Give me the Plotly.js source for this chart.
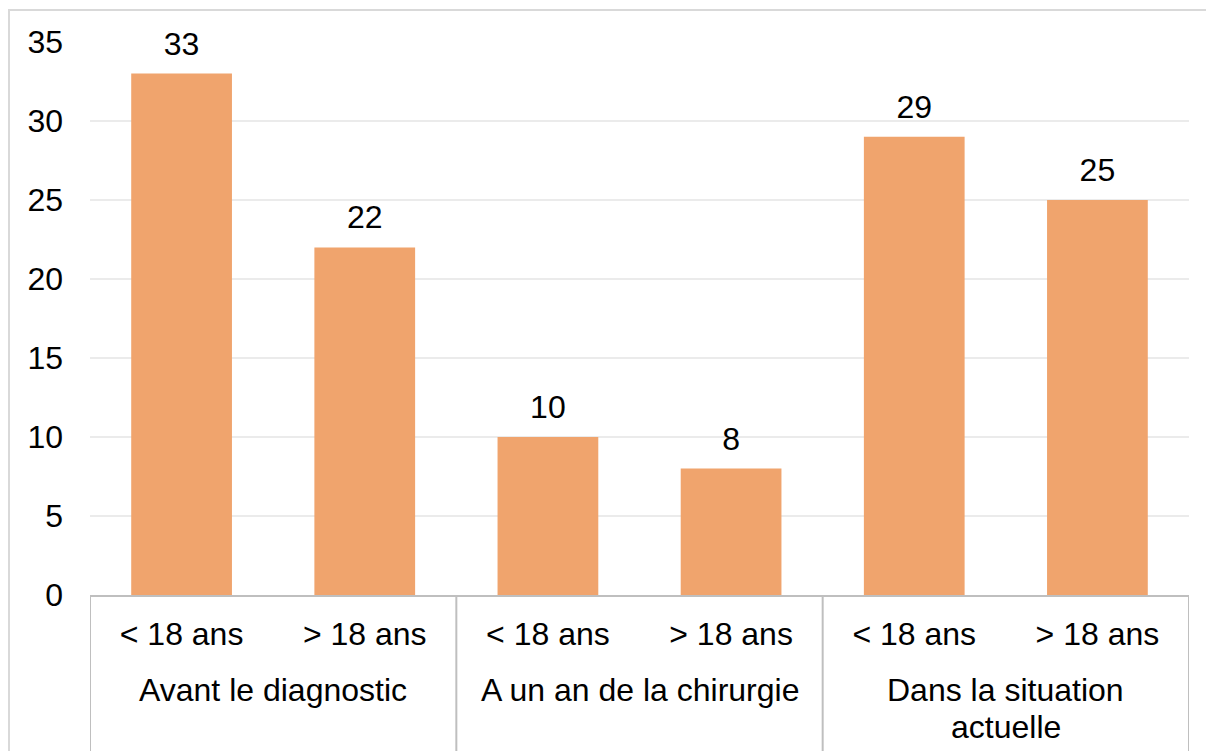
<!DOCTYPE html>
<html>
<head>
<meta charset="utf-8">
<script src="https://cdn.plot.ly/plotly-3.0.1.min.js"></script>
<style>
html,body{margin:0;padding:0;background:#fff;}
#wrap{position:relative;width:1206px;height:751px;overflow:hidden;}
#chart{position:absolute;left:0;top:0;width:1206px;height:751px;}
#frame{position:absolute;left:8px;top:9px;width:1300px;height:900px;border-top:2px solid #D9D9D9;border-left:2px solid #D9D9D9;pointer-events:none;}
</style>
</head>
<body>
<div id="wrap"><div id="chart"></div><div id="frame"></div></div>
<script>
const groups = ["Avant le diagnostic","Avant le diagnostic","A un an de la chirurgie","A un an de la chirurgie","Dans la situation<br>actuelle","Dans la situation<br>actuelle"];
const subgroups = ["< 18 ans","> 18 ans","< 18 ans","> 18 ans","< 18 ans","> 18 ans"];
const values = [33,22,10,8,29,25];
const yTicks = [0,5,10,15,20,25,30,35];

const font = {family:"Liberation Sans, Arial, sans-serif", size:32, color:"#000"};
const idx = subgroups.map((_, i) => i);

// group spans from the groups array
const spans = [];
groups.forEach((g, i) => {
  if (!spans.length || spans[spans.length-1].name !== g) spans.push({name:g, start:i, end:i});
  else spans[spans.length-1].end = i;
});

const bars = {
  type:"bar", x:idx, y:values,
  marker:{color:"#F0A46D"}, width:0.55, hoverinfo:"none"
};
const labels = {
  type:"scatter", mode:"markers+text", x:idx, y:values,
  text:values.map(String), textposition:"top center", textfont:font,
  marker:{size:16, color:"rgba(0,0,0,0)"}, hoverinfo:"none", cliponaxis:false
};

const annotations = [];
spans.forEach(s => {
  s.name.split("<br>").forEach((line, k) => {
    annotations.push({
      x:(s.start + s.end)/2, xref:"x",
      y:0, yref:"paper", yanchor:"middle", xanchor:"center",
      yshift:-95 - 37*k,
      text:line, showarrow:false, font:font
    });
  });
});

const shapes = [];
const bounds = [spans[0].start - 0.5].concat(spans.map(s => s.end + 0.5));
bounds.forEach(b => shapes.push({
  type:"line", xref:"x", yref:"paper", x0:b, x1:b, y0:0, y1:-0.4,
  line:{color:"#BFBFBF", width:2}
}));

const layout = {
  width:1206, height:751,
  margin:{l:90, r:17, t:42, b:156},
  paper_bgcolor:"#fff", plot_bgcolor:"#fff",
  showlegend:false, font:font,
  xaxis:{
    range:[-0.5, subgroups.length - 0.5],
    tickvals:idx, ticktext:subgroups,
    showline:true, linecolor:"#BFBFBF", linewidth:2,
    showgrid:false, zeroline:false, ticks:"",
    ticklabelstandoff:10, tickfont:font, fixedrange:true
  },
  yaxis:{
    range:[0,35], tickvals:yTicks, ticktext:yTicks.map(String),
    showgrid:true, gridcolor:"#EBEBEB", gridwidth:1.5,
    zeroline:false, showline:false, ticks:"",
    ticklabelstandoff:26, tickfont:font
  },
  annotations:annotations,
  shapes:shapes
};

Plotly.newPlot("chart",[bars,labels],layout,{displayModeBar:false,staticPlot:true});
</script>
</body>
</html>
